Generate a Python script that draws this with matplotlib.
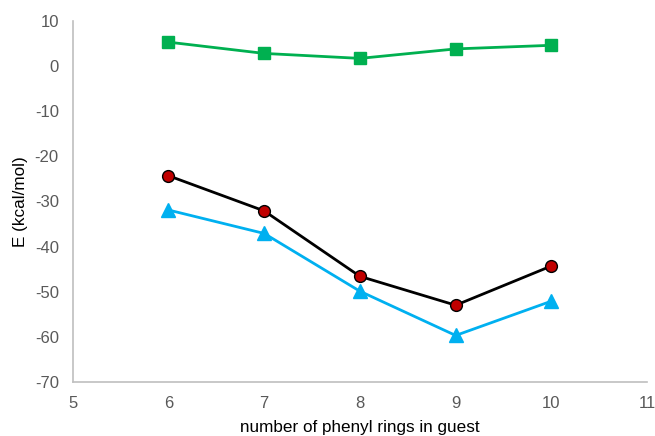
from matplotlib import pyplot as plt

plt.rcParams['font.family'] = ['Liberation Sans', 'DejaVu Sans']
plt.rcParams['axes.unicode_minus'] = False

# number of phenyl rings in guest
rings = [6, 7, 8, 9, 10]

# energies in kcal/mol
e_green = [5.3, 2.8, 1.7, 3.8, 4.6]
e_black = [-24.3, -32.1, -46.6, -53.0, -44.3]
e_blue = [-31.9, -37.1, -49.9, -59.7, -52.1]

fig = plt.figure(figsize=(6.55, 4.36), dpi=100)
ax = fig.add_axes([0.111, 0.124, 0.877, 0.828])

ax.plot(rings, e_green, '-s', color='#00B050', lw=2, ms=8.5, mec='#00B050')
ax.plot(rings, e_blue, '-^', color='#00B0F0', lw=2, ms=10, mec='#00B0F0')
ax.plot(rings, e_black, '-o', color='black', lw=2, ms=8.5,
        mfc='#C00000', mec='black', mew=1)

ax.set_xlim(5, 11)
ax.set_ylim(-70, 10)
ax.set_xticks(range(5, 12))
ax.set_yticks(range(-70, 11, 10))

for s in ['top', 'right']:
    ax.spines[s].set_visible(False)
for s in ['left', 'bottom']:
    ax.spines[s].set_color('#BFBFBF')
    ax.spines[s].set_linewidth(1.2)

ax.tick_params(length=0, labelsize=12, labelcolor='#595959', pad=10)
ax.set_xlabel('number of phenyl rings in guest', fontsize=12.3, labelpad=6.5)
ax.set_ylabel('E (kcal/mol)', fontsize=12.3, labelpad=4.5)

fig.savefig('out.png', dpi=100)
